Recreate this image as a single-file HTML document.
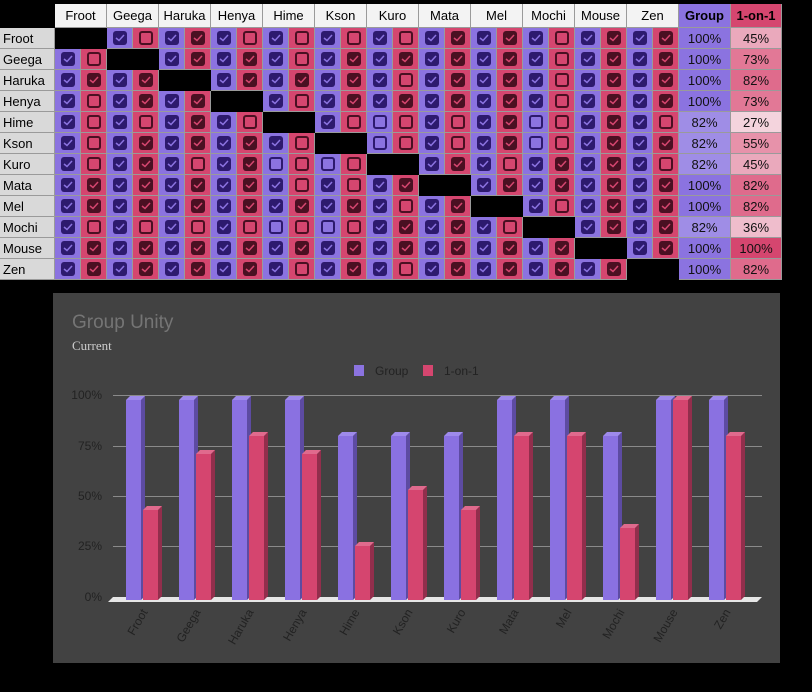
<!DOCTYPE html>
<html><head><meta charset="utf-8"><style>
html,body{margin:0;padding:0;background:#000;width:812px;height:692px;overflow:hidden;font-family:"Liberation Sans",Arial,sans-serif;}
#t{position:absolute;left:0;top:4px;}
.c{position:absolute;box-sizing:border-box;border-right:1px solid #9a9a9a;border-bottom:1px solid #9a9a9a;font-size:13px;display:flex;align-items:center;}
.h{background:#f3f3f3;justify-content:center;color:#000;}
.rl{background:#d9d9d9;padding-left:3px;color:#000;}
.x{background:#000;}
.g{background:#8b73e0;justify-content:center;}
.p{background:#d5466f;justify-content:center;}
.pc{justify-content:center;color:#111;}
.b{width:14px;height:14px;border-radius:3px;box-sizing:border-box;position:relative;}
.gc{background:#2d1a6e;}
.gu{background:#8b73e0;border:2px solid #2d1a6e;}
.pkc{background:#4a1022;}
.pku{background:#d5466f;border:2px solid #4a1022;}
.b svg{position:absolute;left:2px;top:3px;}
</style></head><body>
<div id="t">
<div class="c x" style="left:0;top:0;width:55px;height:24px;border-color:#000"></div>
<div class="c h" style="left:55px;top:0;width:52px;height:24px">Froot</div>
<div class="c h" style="left:107px;top:0;width:52px;height:24px">Geega</div>
<div class="c h" style="left:159px;top:0;width:52px;height:24px">Haruka</div>
<div class="c h" style="left:211px;top:0;width:52px;height:24px">Henya</div>
<div class="c h" style="left:263px;top:0;width:52px;height:24px">Hime</div>
<div class="c h" style="left:315px;top:0;width:52px;height:24px">Kson</div>
<div class="c h" style="left:367px;top:0;width:52px;height:24px">Kuro</div>
<div class="c h" style="left:419px;top:0;width:52px;height:24px">Mata</div>
<div class="c h" style="left:471px;top:0;width:52px;height:24px">Mel</div>
<div class="c h" style="left:523px;top:0;width:52px;height:24px">Mochi</div>
<div class="c h" style="left:575px;top:0;width:52px;height:24px">Mouse</div>
<div class="c h" style="left:627px;top:0;width:52px;height:24px">Zen</div>
<div class="c h" style="left:679px;top:0;width:52px;height:24px;background:#8b73e0;font-weight:bold">Group</div>
<div class="c h" style="left:731px;top:0;width:51px;height:24px;background:#d5466f;font-weight:bold">1-on-1</div>

<div class="c rl" style="left:0;top:24px;width:55px;height:21px">Froot</div>
<div class="c rl" style="left:0;top:45px;width:55px;height:21px">Geega</div>
<div class="c rl" style="left:0;top:66px;width:55px;height:21px">Haruka</div>
<div class="c rl" style="left:0;top:87px;width:55px;height:21px">Henya</div>
<div class="c rl" style="left:0;top:108px;width:55px;height:21px">Hime</div>
<div class="c rl" style="left:0;top:129px;width:55px;height:21px">Kson</div>
<div class="c rl" style="left:0;top:150px;width:55px;height:21px">Kuro</div>
<div class="c rl" style="left:0;top:171px;width:55px;height:21px">Mata</div>
<div class="c rl" style="left:0;top:192px;width:55px;height:21px">Mel</div>
<div class="c rl" style="left:0;top:213px;width:55px;height:21px">Mochi</div>
<div class="c rl" style="left:0;top:234px;width:55px;height:21px">Mouse</div>
<div class="c rl" style="left:0;top:255px;width:55px;height:21px">Zen</div>

<div class="c pc" style="left:679px;top:24px;width:52px;height:21px;background:#8b73e0">100%</div>
<div class="c pc" style="left:679px;top:45px;width:52px;height:21px;background:#8b73e0">100%</div>
<div class="c pc" style="left:679px;top:66px;width:52px;height:21px;background:#8b73e0">100%</div>
<div class="c pc" style="left:679px;top:87px;width:52px;height:21px;background:#8b73e0">100%</div>
<div class="c pc" style="left:679px;top:108px;width:52px;height:21px;background:#9f8de6">82%</div>
<div class="c pc" style="left:679px;top:129px;width:52px;height:21px;background:#9f8de6">82%</div>
<div class="c pc" style="left:679px;top:150px;width:52px;height:21px;background:#9f8de6">82%</div>
<div class="c pc" style="left:679px;top:171px;width:52px;height:21px;background:#8b73e0">100%</div>
<div class="c pc" style="left:679px;top:192px;width:52px;height:21px;background:#8b73e0">100%</div>
<div class="c pc" style="left:679px;top:213px;width:52px;height:21px;background:#9f8de6">82%</div>
<div class="c pc" style="left:679px;top:234px;width:52px;height:21px;background:#8b73e0">100%</div>
<div class="c pc" style="left:679px;top:255px;width:52px;height:21px;background:#8b73e0">100%</div>

<div class="c pc" style="left:731px;top:24px;width:51px;height:21px;background:#eaa9bc">45%</div>
<div class="c pc" style="left:731px;top:45px;width:51px;height:21px;background:#e27896">73%</div>
<div class="c pc" style="left:731px;top:66px;width:51px;height:21px;background:#df6b8c">82%</div>
<div class="c pc" style="left:731px;top:87px;width:51px;height:21px;background:#e27896">73%</div>
<div class="c pc" style="left:731px;top:108px;width:51px;height:21px;background:#f4d4dd">27%</div>
<div class="c pc" style="left:731px;top:129px;width:51px;height:21px;background:#e792aa">55%</div>
<div class="c pc" style="left:731px;top:150px;width:51px;height:21px;background:#eaa9bc">45%</div>
<div class="c pc" style="left:731px;top:171px;width:51px;height:21px;background:#df6b8c">82%</div>
<div class="c pc" style="left:731px;top:192px;width:51px;height:21px;background:#df6b8c">82%</div>
<div class="c pc" style="left:731px;top:213px;width:51px;height:21px;background:#efbdcc">36%</div>
<div class="c pc" style="left:731px;top:234px;width:51px;height:21px;background:#d5466f">100%</div>
<div class="c pc" style="left:731px;top:255px;width:51px;height:21px;background:#df6b8c">82%</div>
<div id="grid"></div>
</div>

<div style="position:absolute;left:53px;top:293px;width:727px;height:370px;background:#424242"></div>
<svg style="position:absolute;left:0;top:0" width="812" height="692" xmlns="http://www.w3.org/2000/svg">
<text x="72" y="328" font-family="Liberation Sans, Arial, sans-serif" font-size="19" fill="#757575">Group Unity</text>
<text x="72" y="350" font-family="Liberation Serif, serif" font-size="13" fill="#cccccc">Current</text>
<rect x="354" y="365" width="10" height="11" fill="#8b73e0"/>
<text x="375" y="375" font-family="Liberation Sans, Arial, sans-serif" font-size="12" fill="#222">Group</text>
<rect x="423" y="365" width="10" height="11" fill="#d5466f"/>
<text x="444" y="375" font-family="Liberation Sans, Arial, sans-serif" font-size="12" fill="#222">1-on-1</text>
<g stroke="#8a8a8a" stroke-width="1">
<line x1="113" y1="395.5" x2="762" y2="395.5"/>
<line x1="113" y1="446.5" x2="762" y2="446.5"/>
<line x1="113" y1="496.5" x2="762" y2="496.5"/>
<line x1="113" y1="546.5" x2="762" y2="546.5"/>
</g>
<g font-family="Liberation Sans, Arial, sans-serif" font-size="12" fill="#222" text-anchor="end">
<text x="102" y="399">100%</text><text x="102" y="450">75%</text><text x="102" y="500">50%</text><text x="102" y="550">25%</text><text x="102" y="601">0%</text>
</g>
<polygon points="108,602 113,597 762,597 757,602" fill="#e6e6e6"/>
<g id="bars"></g>
<g font-family="Liberation Sans, Arial, sans-serif" font-size="12" fill="#222" text-anchor="end">
<text transform="translate(148,612) rotate(-60)">Froot</text>
<text transform="translate(201,612) rotate(-60)">Geega</text>
<text transform="translate(254,612) rotate(-60)">Haruka</text>
<text transform="translate(307,612) rotate(-60)">Henya</text>
<text transform="translate(360,612) rotate(-60)">Hime</text>
<text transform="translate(413,612) rotate(-60)">Kson</text>
<text transform="translate(466,612) rotate(-60)">Kuro</text>
<text transform="translate(519,612) rotate(-60)">Mata</text>
<text transform="translate(572,612) rotate(-60)">Mel</text>
<text transform="translate(625,612) rotate(-60)">Mochi</text>
<text transform="translate(678,612) rotate(-60)">Mouse</text>
<text transform="translate(731,612) rotate(-60)">Zen</text>
</g>
</svg>
<script>
var G=[
"X 10 11 10 10 10 10 11 11 10 11 11",
"10 X 11 11 10 11 11 11 11 10 11 11",
"11 11 X 11 11 11 10 11 11 10 11 11",
"10 11 11 X 10 11 11 11 11 10 11 11",
"10 10 11 10 X 10 00 10 11 00 11 10",
"10 11 11 11 10 X 00 10 11 00 11 11",
"10 11 10 11 00 00 X 11 10 11 11 10",
"11 11 11 11 10 10 11 X 11 11 11 11",
"11 11 11 11 11 11 10 11 X 10 11 11",
"10 10 10 10 00 00 11 11 10 X 11 11",
"11 11 11 11 11 11 11 11 11 11 X 11",
"11 11 11 11 10 11 10 11 11 11 11 X"];
var chk='<svg width="10" height="8" viewBox="0 0 10 8"><path d="M1 4 L4 6.5 L9 1" fill="none" stroke="COL" stroke-width="1.5"/></svg>';
var h='';
for(var r=0;r<12;r++){var row=G[r].split(' ');for(var c=0;c<12;c++){var x=55+52*c,y=24+21*r,v=row[c];
if(v=='X'){h+='<div class="c x" style="left:'+x+'px;top:'+y+'px;width:52px;height:21px;border-color:#000"></div>';continue;}
h+='<div class="c g" style="left:'+x+'px;top:'+y+'px;width:26px;height:21px"><div class="b '+(v[0]=='1'?'gc':'gu')+'">'+(v[0]=='1'?chk.replace('COL','#8b73e0'):'')+'</div></div>';
h+='<div class="c p" style="left:'+(x+26)+'px;top:'+y+'px;width:26px;height:21px"><div class="b '+(v[1]=='1'?'pkc':'pku')+'">'+(v[1]=='1'?chk.replace('COL','#d5466f'):'')+'</div></div>';}}
document.getElementById('grid').innerHTML=h;
var gv=[100,100,100,100,82,82,82,100,100,82,100,100],pv=[45,73,82,73,27,55,45,82,82,36,100,82];
function bar(x,v,f,s,t){var top=600-2*v;return '<rect x="'+x+'" y="'+top+'" width="15" height="'+(600-top)+'" fill="'+f+'"/><polygon points="'+(x+15)+','+top+' '+(x+19)+','+(top-4)+' '+(x+19)+','+(600-4)+' '+(x+15)+',600" fill="'+s+'"/><polygon points="'+x+','+top+' '+(x+4)+','+(top-4)+' '+(x+19)+','+(top-4)+' '+(x+15)+','+top+'" fill="'+t+'"/>';}
var b='';for(var i=0;i<12;i++){b+=bar(126+53*i,gv[i],'#8a71e1','#5d4ba2','#9e8aeb');b+=bar(143+53*i,pv[i],'#d5456f','#922e4c','#e06a8d');}
document.getElementById('bars').innerHTML=b;
</script>
</body></html>
